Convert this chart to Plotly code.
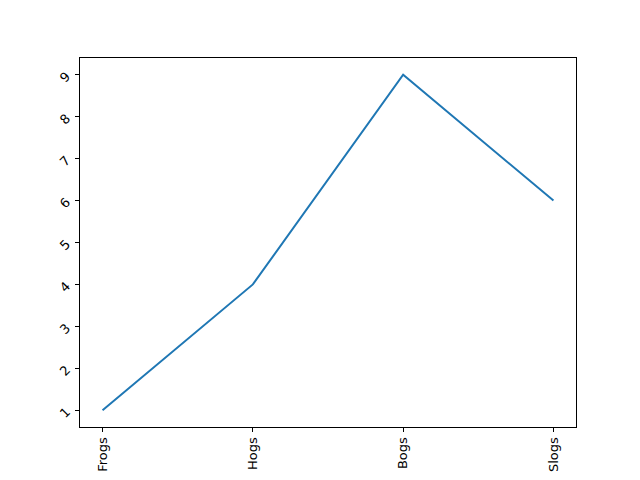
import plotly.graph_objects as go

x_vals = [1, 2, 3, 4]
y_vals = [1, 4, 9, 6]
x_labels = ["Frogs", "Hogs", "Bogs", "Slogs"]
y_ticks = [1, 2, 3, 4, 5, 6, 7, 8, 9]

fig = go.Figure()
fig.add_trace(go.Scatter(x=x_vals, y=y_vals, mode="lines",
                         line=dict(color="#1f77b4", width=2)))

axis_common = dict(showgrid=False, zeroline=False, showline=True, linecolor="black",
                   linewidth=1, mirror=True, ticks="outside", ticklen=4,
                   tickcolor="black", tickwidth=1, automargin=False,
                   tickfont=dict(family="DejaVu Sans", size=13, color="black"))

fig.update_xaxes(range=[0.85, 4.15], tickmode="array", tickvals=x_vals,
                 ticktext=x_labels, tickangle=-90, **axis_common)
fig.update_yaxes(range=[0.6, 9.4], tickmode="array", tickvals=y_ticks,
                 ticktext=[str(v) for v in y_ticks], tickangle=-45,
                 ticklabelstandoff=6, **axis_common)

# page body adds an 8px offset, so margins are shifted to compensate
fig.update_layout(width=640, height=480, showlegend=False,
                  plot_bgcolor="white", paper_bgcolor="white",
                  margin=dict(l=72, r=72, t=50, b=61))

fig.write_html("out.html")
